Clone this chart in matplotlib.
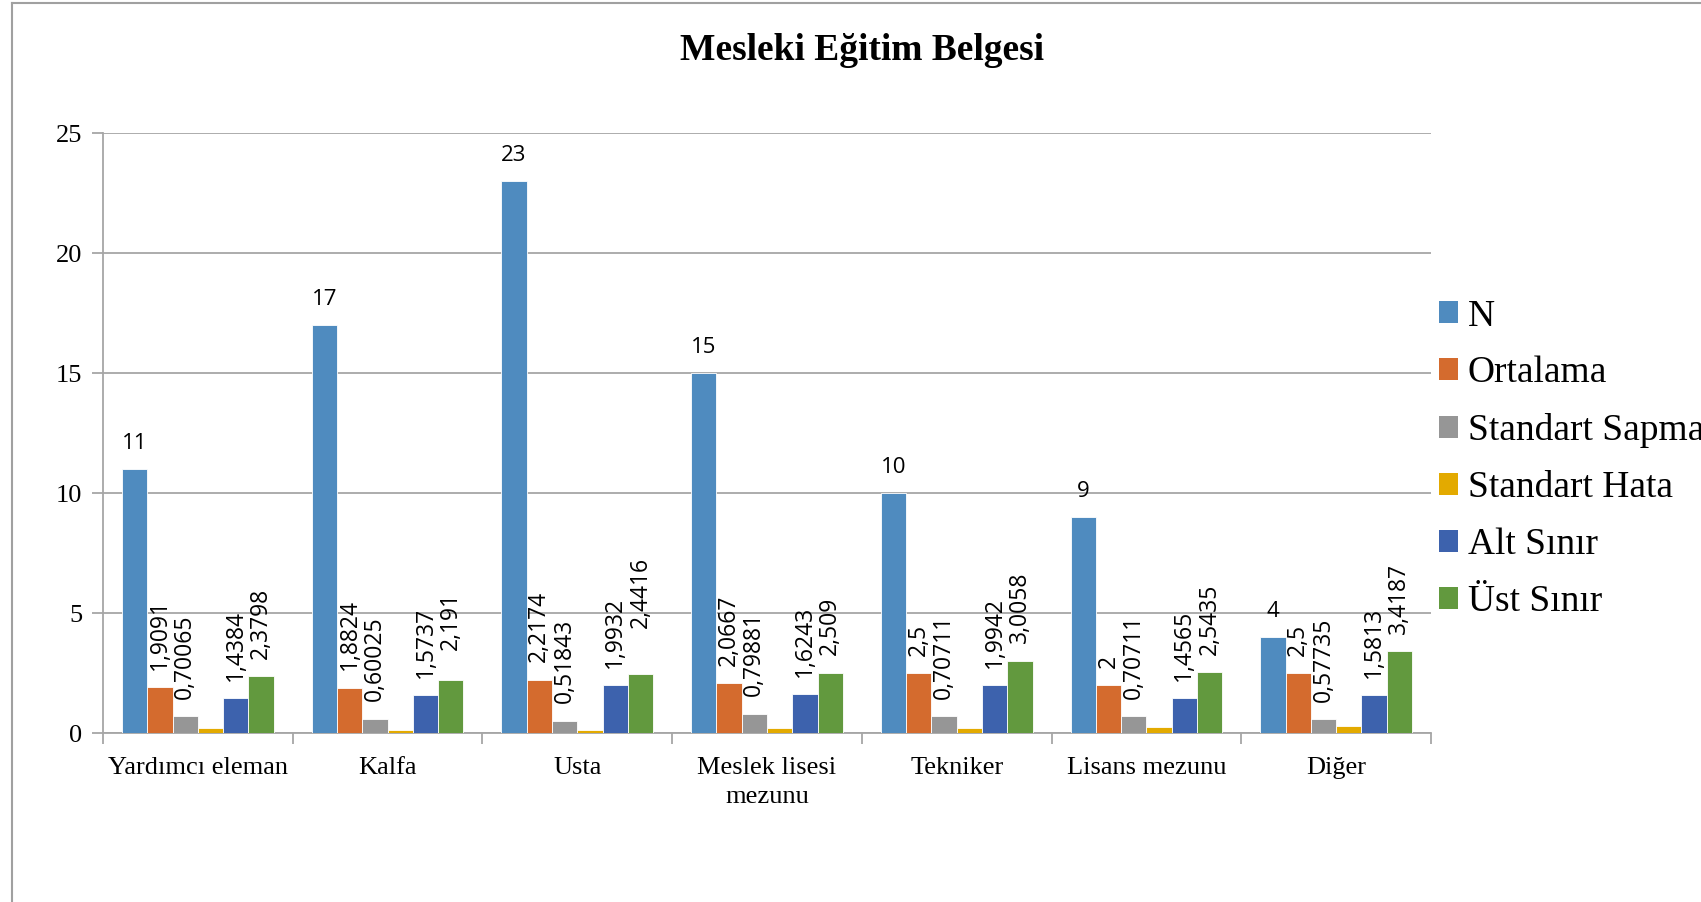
import matplotlib
matplotlib.use("Agg")
import matplotlib.pyplot as plt
from matplotlib.lines import Line2D
from matplotlib.patches import Patch
import numpy as np

categories = ["Yardımcı eleman", "Kalfa", "Usta", "Meslek lisesi\nmezunu",
              "Tekniker", "Lisans mezunu", "Diğer"]
series_names = ["N", "Ortalama", "Standart Sapma", "Standart Hata", "Alt Sınır", "Üst Sınır"]
n_vals = [11, 17, 23, 15, 10, 9, 4]
ortalama = [1.9091, 1.8824, 2.2174, 2.0667, 2.5, 2.0, 2.5]
std_sapma = [0.70065, 0.60025, 0.51843, 0.79881, 0.70711, 0.70711, 0.57735]
std_hata = [0.2113, 0.1456, 0.1081, 0.2063, 0.2236, 0.2357, 0.2887]
alt_sinir = [1.4384, 1.5737, 1.9932, 1.6243, 1.9942, 1.4565, 1.5813]
ust_sinir = [2.3798, 2.191, 2.4416, 2.509, 3.0058, 2.5435, 3.4187]
n_labels = ["11", "17", "23", "15", "10", "9", "4"]
ortalama_labels = ["1,9091", "1,8824", "2,2174", "2,0667", "2,5", "2", "2,5"]
sapma_labels = ["0,70065", "0,60025", "0,51843", "0,79881", "0,70711", "0,70711", "0,57735"]
alt_labels = ["1,4384", "1,5737", "1,9932", "1,6243", "1,9942", "1,4565", "1,5813"]
ust_labels = ["2,3798", "2,191", "2,4416", "2,509", "3,0058", "2,5435", "3,4187"]
title = "Mesleki Eğitim Belgesi"
y_ticks = [0, 5, 10, 15, 20, 25]

# style: colours and extra label lifts (points) as in the reference
colors = ["#4F8BBF", "#D46B2E", "#969696", "#E3AA00", "#3D62AD", "#62993E"]
ust_label_lift = [0, 9.5, 21, 0, 0, 0, 0]

series = [n_vals, ortalama, std_sapma, std_hata, alt_sinir, ust_sinir]
labels = [n_labels, ortalama_labels, sapma_labels, None, alt_labels, ust_labels]

W, H = 1701, 902
fig = plt.figure(figsize=(W / 100, H / 100), dpi=100)
ax = fig.add_axes([103 / W, 1 - 733 / H, (1431 - 103) / W, (733 - 133) / H])

serif = ["Liberation Serif", "DejaVu Serif"]
sans = ["Open Sans", "DejaVu Sans"]

x = np.arange(len(categories))
bw = 0.8 / 6
for i, (vals, col) in enumerate(zip(series, colors)):
    pos = x - 0.4 + bw * (i + 0.5)
    ax.bar(pos, vals, width=bw, color=col, edgecolor="white", linewidth=0.6,
           zorder=3, label=series_names[i])
    lab = labels[i]
    if lab is None:
        continue
    for j, (p, v, t) in enumerate(zip(pos, vals, lab)):
        if i == 0:
            ax.annotate(t, (p, v), xytext=(0, 11), textcoords="offset points",
                        ha="center", va="bottom", fontsize=16, family=sans, zorder=4)
        else:
            lift = ust_label_lift[j] if i == 5 else 0
            ax.annotate(t, (p, v), xytext=(0, 12.5 + lift), textcoords="offset points",
                        ha="center", va="bottom", rotation=90, fontsize=16.5,
                        family=sans, zorder=4)

ax.set_xlim(-0.5, len(categories) - 0.5)
ax.set_ylim(0, 25)
ax.set_yticks(y_ticks)
ax.set_yticklabels([str(v) for v in y_ticks], fontsize=19, family=serif)
ax.yaxis.grid(True, color="#A6A6A6", linewidth=1.3, zorder=0)
ax.set_axisbelow(True)

ax.set_xticks(x)
ax.set_xticklabels(categories, fontsize=19, family=serif, linespacing=1.45)
ax.set_xticks(np.arange(len(categories) + 1) - 0.5, minor=True)
ax.tick_params(axis="x", which="major", length=0, pad=17)
ax.tick_params(axis="x", which="minor", length=8, width=1.3, color="#A6A6A6", direction="out")
ax.tick_params(axis="y", length=8, width=1.3, color="#A6A6A6", direction="out", pad=7)

for s in ["top", "right"]:
    ax.spines[s].set_visible(False)
for s in ["left", "bottom"]:
    ax.spines[s].set_color("#A6A6A6")
    ax.spines[s].set_linewidth(1.3)

fig.text(862 / W, 1 - 50 / H, title, ha="center", va="center", fontsize=27,
         fontweight="bold", family=serif)

handles = [Patch(facecolor=c, edgecolor="none") for c in colors]
fig.legend(handles, series_names, loc="center left",
           bbox_to_anchor=(1439 / W, 1 - 459 / H), frameon=False,
           prop={"family": serif, "size": 27}, handlelength=0.51, handleheight=0.51,
           handletextpad=0.26, labelspacing=0.6, borderpad=0, borderaxespad=0)

# outer chart border (left and top visible)
fig.add_artist(Line2D([12 / W, 12 / W], [0, 1 - 3 / H], color="#A0A0A0", linewidth=1.5,
                      transform=fig.transFigure))
fig.add_artist(Line2D([12 / W, 1], [1 - 3 / H, 1 - 3 / H], color="#A0A0A0", linewidth=1.5,
                      transform=fig.transFigure))

fig.savefig("out.png", dpi=100)
